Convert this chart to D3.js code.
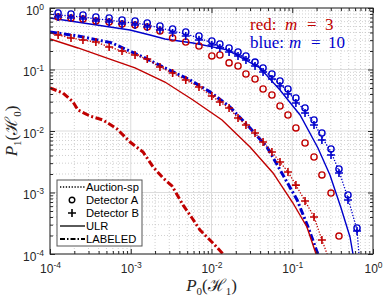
<!DOCTYPE html>
<html>
<head>
<meta charset="utf-8">
<script src="https://cdn.jsdelivr.net/npm/d3@7"></script>
<style>
  body { margin: 0; background: #fff; }
  svg { display: block; }
</style>
</head>
<body>
<div id="chart"></div>
<script>
// false alarm values P0(H1) where the detector markers sit
const markerP0 = [1.26e-4, 1.82e-4, 2.56e-4, 3.7e-4, 5.4e-4, 7.8e-4, 1.13e-3, 1.6e-3, 2.3e-3,
  3.3e-3, 4.8e-3, 7.0e-3, 1.01e-2, 1.27e-2, 1.65e-2, 2.13e-2, 2.67e-2, 3.46e-2, 4.35e-2,
  5.6e-2, 7.05e-2, 8.85e-2, 0.111, 0.144, 0.186, 0.233, 0.302, 0.379, 0.49, 0.634];

// m = 10 (blue)
const detA10 = [0.829, 0.799, 0.770, 0.714, 0.688, 0.638, 0.615, 0.570, 0.510, 0.456, 0.407, 0.351,
  0.291, 0.260, 0.224, 0.193, 0.166, 0.132, 0.106, 0.0845, 0.065, 0.0482, 0.0344, 0.0237,
  0.0151, 0.00928, 0.0051, 0.00241, 0.00091, 0.000265];
const detB10 = [0.714, 0.688, 0.662, 0.615, 0.592, 0.549, 0.529, 0.491, 0.439, 0.392, 0.351, 0.302,
  0.250, 0.224, 0.193, 0.166, 0.143, 0.114, 0.0911, 0.0701, 0.0539, 0.0400, 0.0285, 0.0196,
  0.0125, 0.00714, 0.00407, 0.00208, 0.000755, 0.000237];
const auction10P0 = [1e-4, ...markerP0, 0.67];
const auction10P1 = [0.80, 0.770, 0.741, 0.714, 0.662, 0.638, 0.592, 0.570, 0.529, 0.473, 0.423,
  0.378, 0.325, 0.270, 0.241, 0.208, 0.179, 0.154, 0.123, 0.0982, 0.0756, 0.0582, 0.0433,
  0.0309, 0.0213, 0.0135, 0.00798, 0.00456, 0.00224, 0.00081, 0.000245, 1e-4];
const ulr10P0 = [1e-4, 1.77e-4, 3.13e-4, 5.53e-4, 9.8e-4, 1.73e-3, 2.65e-3, 5.9e-3, 1.56e-2,
  3.99e-2, 7.05e-2, 0.125, 0.208, 0.293, 0.402, 0.519, 0.565];
const ulr10P1 = [0.688, 0.615, 0.549, 0.491, 0.439, 0.364, 0.313, 0.270, 0.208, 0.106, 0.0464,
  0.0182, 0.00529, 0.00193, 0.00056, 0.000189, 1e-4];
const labeled10P0 = [1e-4, 2.22e-4, 5.86e-4, 1.5e-3, 2.65e-3, 5.42e-3, 9.57e-3, 1.69e-2, 3.0e-2,
  4.86e-2, 7.67e-2, 0.115, 0.157, 0.203, 0.208];
const labeled10P1 = [0.407, 0.351, 0.270, 0.154, 0.106, 0.0675, 0.0433, 0.0246, 0.0112, 0.0055,
  0.00193, 0.000755, 0.000275, 0.000108, 1e-4];

// m = 3 (red)
const detA3 = [0.714, 0.688, 0.662, 0.615, 0.592, 0.549, 0.529, 0.491, 0.423, 0.325, 0.280, 0.241,
  0.166, 0.172, 0.128, 0.114, 0.0845, 0.0701, 0.0482, 0.0385, 0.0255, 0.0182, 0.0112, 0.00638,
  0.00378, 0.00193, 0.00098, 0.000196];
const detB3 = [0.364, 0.325, 0.302, 0.280, 0.232, 0.200, 0.172, 0.148, 0.110, 0.0877, 0.0675,
  0.0519, 0.0371, 0.0296, 0.0237, 0.0163, 0.0125, 0.00928, 0.00662, 0.00456, 0.00313, 0.00216,
  0.00132, 0.000727, 0.0004, 0.000169];
const auction3P0 = [1e-4, ...markerP0.slice(0, 26), 0.27];
const auction3P1 = [0.392, ...detB3, 1e-4];
const ulr3P0 = [1e-4, 2.22e-4, 5.86e-4, 1.13e-3, 2.65e-3, 5.9e-3, 1.35e-2, 3.0e-2, 5.78e-2,
  0.102, 0.152, 0.191, 0.197];
const ulr3P1 = [0.313, 0.224, 0.143, 0.106, 0.0626, 0.0319, 0.0151, 0.0055, 0.00208, 0.000675,
  0.000275, 0.000113, 1e-4];
const labeled3P0 = [1e-4, 1.45e-4, 1.93e-4, 2.22e-4, 3.13e-4, 4.53e-4, 6.76e-4, 9.8e-4, 1.42e-3,
  1.89e-3, 2.51e-3, 3.24e-3, 4.43e-3, 5.74e-3, 7.21e-3, 1.04e-2, 1.39e-2];
const labeled3P1 = [0.050, 0.0415, 0.0296, 0.0220, 0.0175, 0.0151, 0.0108, 0.00662, 0.00456,
  0.0026, 0.00172, 0.00128, 0.00063, 0.000385, 0.000245, 0.000151, 1e-4];

const majorTicks = [1e-4, 1e-3, 1e-2, 1e-1, 1];
const minorTicks = [];
[-4, -3, -2, -1].forEach(k => { for (let m = 2; m <= 9; m++) minorTicks.push(m * Math.pow(10, k)); });

const legendItems = ["Auction-sp", "Detector A", "Detector B", "ULR", "LABELED"];

const red = "#c00000", blue = "#0000cc", axisColor = "#262626";
const W = 383, H = 298;
const margin = {top: 8, right: 10, bottom: 44, left: 50};
const width = W - margin.left - margin.right;
const height = H - margin.top - margin.bottom;

const svg = d3.select("#chart").append("svg")
  .attr("width", W).attr("height", H)
  .style("font-family", "'Liberation Sans', Arial, sans-serif");

const g = svg.append("g").attr("transform", `translate(${margin.left},${margin.top})`);

const x = d3.scaleLog().domain([1e-4, 1]).range([0, width]);
const y = d3.scaleLog().domain([1e-4, 1]).range([height, 0]);

g.append("rect").attr("width", width).attr("height", height).attr("fill", "#fff");

// minor grid (dotted) and major grid (light solid)
const grid = g.append("g");
grid.selectAll(".mx").data(minorTicks).enter().append("line")
  .attr("x1", d => x(d)).attr("x2", d => x(d)).attr("y1", 0).attr("y2", height)
  .attr("stroke", "#c4c4c4").attr("stroke-width", 0.8).attr("stroke-dasharray", "1,2");
grid.selectAll(".my").data(minorTicks).enter().append("line")
  .attr("y1", d => y(d)).attr("y2", d => y(d)).attr("x1", 0).attr("x2", width)
  .attr("stroke", "#c4c4c4").attr("stroke-width", 0.8).attr("stroke-dasharray", "1,2");
grid.selectAll(".Mx").data(majorTicks).enter().append("line")
  .attr("x1", d => x(d)).attr("x2", d => x(d)).attr("y1", 0).attr("y2", height)
  .attr("stroke", "#dcdcdc").attr("stroke-width", 1);
grid.selectAll(".My").data(majorTicks).enter().append("line")
  .attr("y1", d => y(d)).attr("y2", d => y(d)).attr("x1", 0).attr("x2", width)
  .attr("stroke", "#dcdcdc").attr("stroke-width", 1);

// curves
svg.append("defs").append("clipPath").attr("id", "clip")
  .append("rect").attr("width", width).attr("height", height);
const plot = g.append("g").attr("clip-path", "url(#clip)");
const line = d3.line().x(d => x(d[0])).y(d => y(d[1]));
const zip = (a, b) => a.map((v, i) => [v, b[i]]);

function drawLine(p0, p1, color, w, dash) {
  plot.append("path").datum(zip(p0, p1))
    .attr("d", line).attr("fill", "none")
    .attr("stroke", color).attr("stroke-width", w)
    .attr("stroke-dasharray", dash);
}
drawLine(labeled3P0, labeled3P1, red, 3, "7,2.5,2,2.5");
drawLine(labeled10P0, labeled10P1, blue, 3, "7,2.5,2,2.5");
drawLine(ulr3P0, ulr3P1, red, 1.4, null);
drawLine(ulr10P0, ulr10P1, blue, 1.4, null);
drawLine(auction3P0, auction3P1, red, 1.3, "1.3,1.6");
drawLine(auction10P0, auction10P1, blue, 1.3, "1.3,1.6");

function drawCircles(vals, color) {
  plot.append("g").selectAll("circle").data(zip(markerP0.slice(0, vals.length), vals))
    .enter().append("circle")
    .attr("cx", d => x(d[0])).attr("cy", d => y(d[1])).attr("r", 3.1)
    .attr("fill", "none").attr("stroke", color).attr("stroke-width", 1.4);
}
function drawPlus(vals, color) {
  plot.append("g").selectAll("path").data(zip(markerP0.slice(0, vals.length), vals))
    .enter().append("path")
    .attr("transform", d => `translate(${x(d[0])},${y(d[1])})`)
    .attr("d", "M-4,0H4M0,-4V4")
    .attr("stroke", color).attr("stroke-width", 1.6);
}
drawCircles(detA3, red);
drawCircles(detA10, blue);
drawPlus(detB3, red);
drawPlus(detB10, blue);

// ticks on all four sides, pointing inward
function ticks(axisFn, vals, size, transform) {
  g.append("g").attr("transform", transform)
    .call(axisFn.tickValues(vals).tickSize(-size).tickFormat(""))
    .call(s => s.select(".domain").remove())
    .selectAll("line").attr("stroke", axisColor);
}
ticks(d3.axisBottom(x), majorTicks, 5, `translate(0,${height})`);
ticks(d3.axisBottom(x), minorTicks, 3, `translate(0,${height})`);
ticks(d3.axisTop(x), majorTicks, 5, "translate(0,0)");
ticks(d3.axisTop(x), minorTicks, 3, "translate(0,0)");
ticks(d3.axisLeft(y), majorTicks, 5, "translate(0,0)");
ticks(d3.axisLeft(y), minorTicks, 3, "translate(0,0)");
ticks(d3.axisRight(y), majorTicks, 5, `translate(${width},0)`);
ticks(d3.axisRight(y), minorTicks, 3, `translate(${width},0)`);

g.append("rect").attr("width", width).attr("height", height)
  .attr("fill", "none").attr("stroke", axisColor).attr("stroke-width", 1);

// tick labels as 10^k
function powerLabels(sel) {
  sel.selectAll(".tick text").each(function(d) {
    const t = d3.select(this).text(null).attr("fill", axisColor).style("font-size", "12px");
    t.append("tspan").text("10");
    t.append("tspan").attr("dy", "-0.55em").style("font-size", "8.5px")
      .text(String(Math.round(Math.log10(d))));
  });
  sel.select(".domain").remove();
  sel.selectAll(".tick line").remove();
}
g.append("g").attr("transform", `translate(0,${height})`)
  .call(d3.axisBottom(x).tickValues(majorTicks).tickSize(0).tickPadding(10.5))
  .call(powerLabels);
g.append("g")
  .call(d3.axisLeft(y).tickValues(majorTicks).tickSize(0).tickPadding(6))
  .call(powerLabels)
  .selectAll(".tick text").attr("dy", "0.5em");

// axis titles
const serif = "'Liberation Serif', 'DejaVu Serif', serif";
function mathLabel(t, main, sub1, sub2) {
  t.append("tspan").style("font-style", "italic").text(main);
  t.append("tspan").style("font-size", "11px").attr("dy", 4).text(sub1);
  t.append("tspan").attr("dy", -4).text("(");
  t.append("tspan").text("\u210B");
  t.append("tspan").style("font-size", "11px").attr("dy", 4).text(sub2);
  t.append("tspan").attr("dy", -4).text(")");
}
svg.append("text").attr("x", margin.left + width / 2).attr("y", 291)
  .attr("text-anchor", "middle").style("font-family", serif).style("font-size", "17px")
  .attr("fill", axisColor).call(t => mathLabel(t, "P", "0", "1"));
svg.append("text").attr("transform", `translate(17,${margin.top + height / 2}) rotate(-90)`)
  .attr("text-anchor", "middle").style("font-family", serif).style("font-size", "17px")
  .attr("fill", axisColor).call(t => mathLabel(t, "P", "1", "0"));

// annotation
function note(yPos, word, num, color, xs) {
  const a = svg.append("g").style("font-family", serif).style("font-size", "17px").attr("fill", color);
  a.append("text").attr("x", xs[0]).attr("y", yPos).text(word);
  a.append("text").attr("x", xs[1]).attr("y", yPos).style("font-style", "italic").text("m");
  a.append("text").attr("x", xs[2]).attr("y", yPos).text("=");
  a.append("text").attr("x", xs[3]).attr("y", yPos).text(num);
}
note(30, "red:", "3", red, [250, 285, 307, 325]);
note(48, "blue:", "10", blue, [250, 289, 311, 328]);

// legend
const lg = g.append("g").attr("transform", "translate(7,172)");
lg.append("rect").attr("width", 85).attr("height", 66)
  .attr("fill", "#fff").attr("stroke", "#555").attr("stroke-width", 1);
const rows = lg.selectAll(".row").data(legendItems).enter().append("g")
  .attr("transform", (d, i) => `translate(0,${7 + i * 13})`);
rows.append("text").attr("x", 29).attr("dy", "0.35em")
  .style("font-size", "11.2px").attr("fill", "#000").text(d => d);
rows.filter((d, i) => i !== 1 && i !== 2).append("line")
  .attr("x1", 3).attr("x2", 28)
  .attr("stroke", "#000")
  .attr("stroke-width", (d, i) => i === 2 ? 2.2 : 1.3)
  .attr("stroke-dasharray", (d, i) => i === 0 ? "1.3,1.6" : i === 2 ? "5,2,1.5,2" : null);
rows.filter((d, i) => i === 1).append("circle").attr("cx", 15).attr("r", 2.8)
  .attr("fill", "none").attr("stroke", "#000").attr("stroke-width", 1.4);
rows.filter((d, i) => i === 2).append("path").attr("transform", "translate(15,0)")
  .attr("d", "M-4,0H4M0,-4V4").attr("stroke", "#000").attr("stroke-width", 1.6);
</script>
</body>
</html>
